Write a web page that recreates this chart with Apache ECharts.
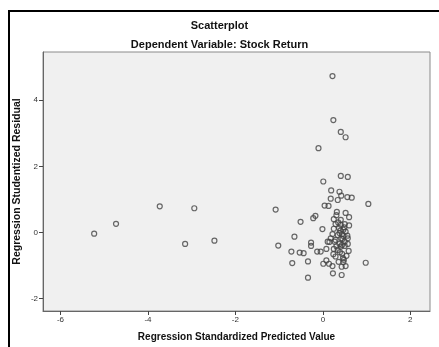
<!DOCTYPE html>
<html>
<head>
<meta charset="utf-8">
<script src="https://cdn.jsdelivr.net/npm/echarts@6/dist/echarts.min.js"></script>
<style>
  html, body { margin: 0; padding: 0; background: #fff; }
  #chart { width: 439px; height: 347px; }
</style>
</head>
<body>
<div id="chart"></div>
<script>
// regression standardized predicted value (x) and studentized residual (y)
var predicted = [
  0.22, 0.24, 0.41, 0.52, -0.10, 0.41, 0.57, 0.01, 0.19, 0.38,
  0.42, 0.56, 0.66, 0.18, 0.34, 1.04, 0.04, 0.13, -0.17, -0.22,
  0.31, 0.25, 0.41, 0.60, -0.51, -0.65, -0.01, -0.27, -0.27, -0.72,
  -0.53, -0.44, -0.13, -0.05, -0.70, -0.34, -0.34, 0.23, 0.43, 0.08,
  0.98, -5.23, -4.73, -3.73, -2.94, -3.15, -2.48, -1.08, -1.02,
  0.29, 0.41, 0.50, 0.60, 0.25, 0.37, 0.47, 0.52, 0.22, 0.34,
  0.44, 0.56, 0.18, 0.29, 0.42, 0.57, 0.11, 0.50, 0.15, 0.27,
  0.41, 0.50, 0.24, 0.29, 0.44, 0.46, 0.08, 0.01, 0.14, 0.22,
  0.43, 0.48, 0.34, 0.59, 0.54, 0.36, 0.32, 0.52, 0.47, 0.38,
  0.31, 0.57, 0.25, 0.52, 0.40, 0.45, 0.38, 0.49, 0.35, 0.44,
  0.39, 0.47
];
var residuals = [
  4.73, 3.40, 3.04, 2.88, 2.55, 1.71, 1.68, 1.54, 1.27, 1.23,
  1.11, 1.07, 1.05, 1.02, 0.98, 0.86, 0.81, 0.80, 0.50, 0.43,
  0.52, 0.40, 0.38, 0.46, 0.32, -0.13, 0.10, -0.31, -0.41, -0.58,
  -0.61, -0.63, -0.58, -0.58, -0.93, -0.88, -1.37, -1.24, -1.29, -0.50,
  -0.92, -0.04, 0.26, 0.79, 0.73, -0.35, -0.25, 0.69, -0.40,
  0.25, 0.23, 0.25, 0.21, 0.11, 0.13, 0.08, 0.02, -0.05, -0.08,
  -0.05, -0.10, -0.18, -0.23, -0.18, -0.18, -0.28, -0.28, -0.29, -0.28,
  -0.43, -0.41, -0.66, -0.73, -0.65, -0.78, -0.85, -0.95, -0.95, -1.02,
  -1.04, -0.83, -0.53, -0.56, -0.71, -0.89, 0.62, 0.59, -0.11, -0.35,
  -0.42, -0.35, -0.50, -1.02, 0.05, -0.20, -0.02, 0.15, 0.30, -0.38,
  -0.60, -0.90
];
var xTicks = [-6, -4, -2, 0, 2];
var yTicks = [-2, 0, 2, 4];

var points = predicted.map(function (x, i) { return [x, residuals[i]]; });

var chart = echarts.init(document.getElementById('chart'));
chart.setOption({
  animation: false,
  textStyle: { fontFamily: 'Liberation Sans' },
  title: [{
    text: 'Scatterplot',
    left: 'center',
    top: 15,
    textStyle: { fontSize: 11, fontWeight: 'bold', color: '#111' }
  }, {
    text: 'Dependent Variable: Stock Return',
    left: 'center',
    top: 34,
    textStyle: { fontSize: 11, fontWeight: 'bold', color: '#111' }
  }],
  graphic: [{
    type: 'rect',
    shape: { x: 9, y: 11, width: 500, height: 400 },
    style: { fill: 'none', stroke: '#000', lineWidth: 2 },
    silent: true
  }],
  grid: {
    left: 43, top: 52, right: 9, bottom: 36,
    show: true,
    backgroundColor: '#f0f0f0',
    borderColor: '#8a8a8a',
    borderWidth: 1,
    outerBoundsMode: 'none'
  },
  xAxis: {
    type: 'value',
    min: -6.4,
    max: 2.45,
    name: 'Regression Standardized Predicted Value',
    nameLocation: 'middle',
    nameGap: 21,
    nameTextStyle: { fontSize: 10, fontWeight: 'bold', color: '#111' },
    axisLine: { show: true, onZero: false, lineStyle: { color: '#666' } },
    axisTick: { show: true, inside: false, length: 4, customValues: xTicks, lineStyle: { color: '#444' } },
    axisLabel: { customValues: xTicks, fontSize: 8, color: '#333', margin: 5 },
    splitLine: { show: false }
  },
  yAxis: {
    type: 'value',
    min: -2.38,
    max: 5.46,
    name: 'Regression Studentized Residual',
    nameLocation: 'middle',
    nameGap: 20,
    nameMoveOverlap: false,
    nameTextStyle: { fontSize: 10.5, fontWeight: 'bold', color: '#111' },
    axisLine: { show: true, onZero: false, lineStyle: { color: '#666' } },
    axisTick: { show: true, inside: false, length: 4, customValues: yTicks, lineStyle: { color: '#444' } },
    axisLabel: { customValues: yTicks, fontSize: 8, color: '#333', margin: 5 },
    splitLine: { show: false }
  },
  series: [{
    type: 'scatter',
    data: points,
    symbol: 'circle',
    symbolSize: 5,
    itemStyle: { color: 'rgba(0,0,0,0)', borderColor: '#444', borderWidth: 1.2 }
  }]
});
</script>
</body>
</html>
